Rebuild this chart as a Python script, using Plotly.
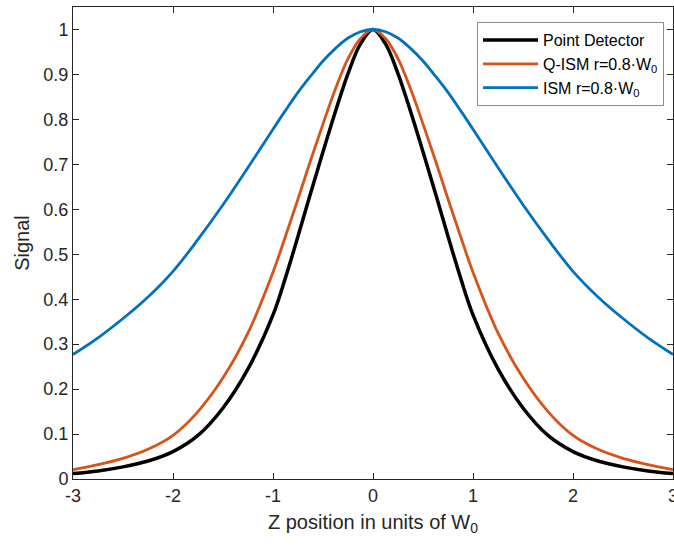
import plotly.graph_objects as go

# Z position (units of W0)
z = [-3, -2.75, -2.5, -2.25, -2, -1.75, -1.5, -1.25, -1, -0.875, -0.75, -0.625, -0.5, -0.375, -0.25, -0.125, 0,
     0.125, 0.25, 0.375, 0.5, 0.625, 0.75, 0.875, 1, 1.25, 1.5, 1.75, 2, 2.25, 2.5, 2.75, 3]

point_detector = [0.012, 0.018, 0.027, 0.040, 0.061, 0.097, 0.158, 0.245, 0.365, 0.448, 0.540, 0.635, 0.728, 0.818, 0.902, 0.968, 1.0,
                  0.968, 0.902, 0.818, 0.728, 0.635, 0.540, 0.448, 0.365, 0.245, 0.158, 0.097, 0.061, 0.040, 0.027, 0.018, 0.012]
q_ism = [0.021, 0.032, 0.046, 0.066, 0.097, 0.150, 0.225, 0.325, 0.460, 0.540, 0.623, 0.708, 0.790, 0.868, 0.935, 0.980, 1.0,
         0.980, 0.935, 0.868, 0.790, 0.708, 0.623, 0.540, 0.460, 0.325, 0.225, 0.150, 0.097, 0.066, 0.046, 0.032, 0.021]
ism = [0.277, 0.314, 0.357, 0.405, 0.462, 0.533, 0.610, 0.693, 0.778, 0.820, 0.860, 0.896, 0.930, 0.958, 0.981, 0.995, 1.0,
       0.995, 0.981, 0.958, 0.930, 0.896, 0.860, 0.820, 0.778, 0.693, 0.610, 0.533, 0.462, 0.405, 0.357, 0.314, 0.277]

names = ["Point Detector", "Q-ISM r=0.8\u00b7W<sub>0</sub>", "ISM r=0.8\u00b7W<sub>0</sub>"]
colors = ["#000000", "#D95319", "#0072BD"]
widths = [3.5, 2.8, 2.8]

x_ticks = [-3, -2, -1, 0, 1, 2, 3]
y_ticks = [0, 0.1, 0.2, 0.3, 0.4, 0.5, 0.6, 0.7, 0.8, 0.9, 1]
y_tick_text = ["0", "0.1", "0.2", "0.3", "0.4", "0.5", "0.6", "0.7", "0.8", "0.9", "1"]

fig = go.Figure()
for ys, nm, c, w in zip([point_detector, q_ism, ism], names, colors, widths):
    fig.add_trace(go.Scatter(x=z, y=ys, mode="lines", name=nm,
                             line=dict(color=c, width=w, shape="spline", smoothing=1.0)))

axis_common = dict(showline=True, linecolor="#262626", linewidth=1, mirror="ticks",
                   ticks="inside", ticklen=6, tickcolor="#262626", showgrid=False,
                   zeroline=False, automargin=False,
                   tickfont=dict(family="Liberation Sans, Arial", size=18, color="#262626"))

fig.update_layout(
    width=674, height=546,
    margin=dict(l=73, r=1, t=7, b=67),
    paper_bgcolor="white", plot_bgcolor="white",
    font=dict(family="Liberation Sans, Arial", color="#262626"),
    xaxis=dict(range=[-3, 3], tickvals=x_ticks, ticktext=[str(v) for v in x_ticks],
               ticklabeloverflow="allow",
               title=dict(text="Z position in units of W<sub>0</sub>",
                          font=dict(size=20, color="#262626"), standoff=10),
               **axis_common),
    yaxis=dict(range=[0, 1.05], tickvals=y_ticks, ticktext=y_tick_text,
               title=dict(text="Signal", font=dict(size=20, color="#262626"), standoff=8),
               **axis_common),
    legend=dict(x=0.985, y=0.968, xanchor="right", yanchor="top",
                bgcolor="white", bordercolor="#8C8C8C", borderwidth=1,
                font=dict(family="Liberation Sans, Arial", size=16, color="#000000"),
                itemwidth=55, tracegroupgap=0),
    showlegend=True,
)

fig.write_html("out.html")
